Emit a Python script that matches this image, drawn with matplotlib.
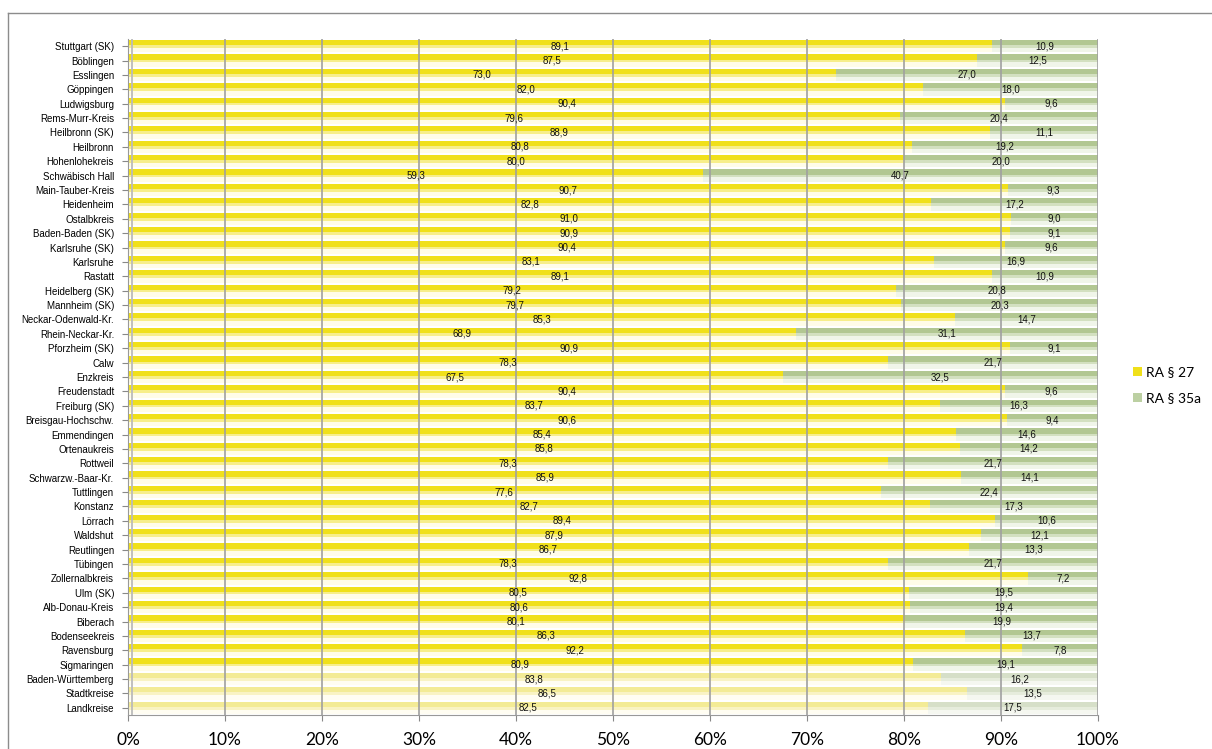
import matplotlib
matplotlib.use("Agg")
import matplotlib.pyplot as plt
from matplotlib.lines import Line2D
from matplotlib.patches import Rectangle
import numpy as np

categories = ["Stuttgart (SK)", "Böblingen", "Esslingen", "Göppingen", "Ludwigsburg",
              "Rems-Murr-Kreis", "Heilbronn (SK)", "Heilbronn", "Hohenlohekreis",
              "Schwäbisch Hall", "Main-Tauber-Kreis", "Heidenheim", "Ostalbkreis",
              "Baden-Baden (SK)", "Karlsruhe (SK)", "Karlsruhe", "Rastatt",
              "Heidelberg (SK)", "Mannheim (SK)", "Neckar-Odenwald-Kr.", "Rhein-Neckar-Kr.",
              "Pforzheim (SK)", "Calw", "Enzkreis", "Freudenstadt", "Freiburg (SK)",
              "Breisgau-Hochschw.", "Emmendingen", "Ortenaukreis", "Rottweil",
              "Schwarzw.-Baar-Kr.", "Tuttlingen", "Konstanz", "Lörrach", "Waldshut",
              "Reutlingen", "Tübingen", "Zollernalbkreis", "Ulm (SK)", "Alb-Donau-Kreis",
              "Biberach", "Bodenseekreis", "Ravensburg", "Sigmaringen",
              "Baden-Württemberg", "Stadtkreise", "Landkreise"]
ra27 = [89.1, 87.5, 73.0, 82.0, 90.4, 79.6, 88.9, 80.8, 80.0, 59.3, 90.7, 82.8, 91.0,
        90.9, 90.4, 83.1, 89.1, 79.2, 79.7, 85.3, 68.9, 90.9, 78.3, 67.5, 90.4, 83.7,
        90.6, 85.4, 85.8, 78.3, 85.9, 77.6, 82.7, 89.4, 87.9, 86.7, 78.3, 92.8, 80.5,
        80.6, 80.1, 86.3, 92.2, 80.9, 83.8, 86.5, 82.5]
ra35a = [10.9, 12.5, 27.0, 18.0, 9.6, 20.4, 11.1, 19.2, 20.0, 40.7, 9.3, 17.2, 9.0,
         9.1, 9.6, 16.9, 10.9, 20.8, 20.3, 14.7, 31.1, 9.1, 21.7, 32.5, 9.6, 16.3,
         9.4, 14.6, 14.2, 21.7, 14.1, 22.4, 17.3, 10.6, 12.1, 13.3, 21.7, 7.2, 19.5,
         19.4, 19.9, 13.7, 7.8, 19.1, 16.2, 13.5, 17.5]
series_names = ["RA § 27", "RA § 35a"]
n_summary = 3  # last rows are aggregates (paler)

W, H = 1212, 749
fig = plt.figure(figsize=(W / 100, H / 100), dpi=100)
ax = fig.add_axes([128 / W, 1 - 715 / H, (1098 - 128) / W, (715 - 39) / H])

n = len(categories)
y = np.arange(n)
a = np.array(ra27)
b = np.array(ra35a)

# colours: (top saturated, middle, bottom pale)
yel = ["#F0E01A", "#F7EE8A", "#FFFCE8"]
grn = ["#B2C792", "#D3E0C0", "#F0F5E9"]
yel_s = ["#F3EB96", "#F9F3C4", "#FFFDF2"]
grn_s = ["#D6DFC8", "#E6ECDC", "#F5F7F0"]

h_total = 0.86
fr = [0.42, 0.22, 0.36]  # fractions of bar height from top
for i in range(n):
    summ = i >= n - n_summary
    cy = yel_s if summ else yel
    cg = grn_s if summ else grn
    start = y[i] - h_total / 2
    for f, c1, c2 in zip(fr, cy, cg):
        hh = f * h_total
        ax.barh(start + hh / 2, a[i], height=hh, left=0, color=c1, linewidth=0, zorder=2)
        ax.barh(start + hh / 2, b[i], height=hh, left=a[i], color=c2, linewidth=0, zorder=2)
        start += hh

for i in range(n):
    ax.text(a[i] / 2, y[i], f"{a[i]:.1f}".replace(".", ","), ha="center", va="center",
            fontsize=7, family="Liberation Sans", color="#111111", zorder=4)
    ax.text(a[i] + b[i] / 2, y[i], f"{b[i]:.1f}".replace(".", ","), ha="center", va="center",
            fontsize=7, family="Liberation Sans", color="#111111", zorder=4)

ax.set_xlim(0, 100)
ax.set_ylim(n - 0.5, -0.5)
ax.set_xticks(np.arange(0, 101, 10))
ax.set_xticklabels([f"{v}%" for v in range(0, 101, 10)], fontsize=12.5, family="Lato")
ax.set_yticks(y)
ax.set_yticklabels(categories, fontsize=7, family="Liberation Sans")
ax.tick_params(axis="y", length=4, color="#888888", pad=6)
ax.tick_params(axis="x", length=4, color="#888888", pad=8)
for v in range(10, 101, 10):
    ax.axvline(v, color="#a0a0a0", linewidth=1.2, zorder=3)
ax.axvline(0.4, color="#bbbbbb", linewidth=1.3, zorder=3)
for s in ["top", "right"]:
    ax.spines[s].set_visible(False)
ax.spines["left"].set_color("#999999")
ax.spines["bottom"].set_color("#999999")

# legend
for k, (name, col) in enumerate(zip(series_names, [yel[0], "#BCD0A2"])):
    yy = 1 - (372 + 26 * k) / H
    fig.patches.append(Rectangle((1133 / W, yy - 4 / H), 9 / W, 9 / H, transform=fig.transFigure,
                                 facecolor=col, edgecolor="none"))
    fig.text(1146 / W, yy, name, fontsize=10, family="Lato", va="center", ha="left")

# outer frame
fig.lines.append(Line2D([8 / W, 8 / W], [0, 1 - 13 / H], transform=fig.transFigure,
                        color="#8c8c8c", linewidth=1))
fig.lines.append(Line2D([8 / W, 1], [1 - 13 / H, 1 - 13 / H], transform=fig.transFigure,
                        color="#8c8c8c", linewidth=1))

fig.savefig("out.png", dpi=100)
